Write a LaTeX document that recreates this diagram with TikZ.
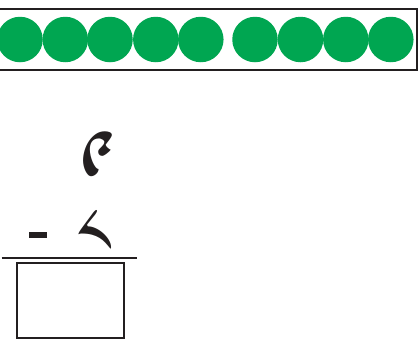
\documentclass[tikz,border=0pt]{standalone}
\usepackage{fontspec}
\newfontfamily\tibfont[Script=Tibetan]{Jomolhari}
\definecolor{dotgreen}{RGB}{0,166,81}
\definecolor{ink}{RGB}{35,31,32}
\tikzset{
  dot/.style={circle,fill=dotgreen,draw=none,minimum size=45.5pt,inner sep=0pt},
  frame/.style={draw=ink,line width=2pt},
  digit/.style={inner sep=0pt,anchor=center,font=\fontsize{78}{78}\selectfont\tibfont,text=ink}
}
\begin{document}
\begin{tikzpicture}[x=1pt,y=1pt]
\useasboundingbox (0,0) rectangle (420,-338);
\draw[frame] (-5,-9) rectangle (416.5,-70);
\foreach \i/\x in {1/20,2/65.3,3/110,4/155.8,5/200.8,6/255,7/300.5,8/345.8,9/390.8}
  \node[dot] (c\i) at (\x,-39.5) {};
\node[digit] (top) at (96.5,-161) {༩};
\node[digit] (bot) at (95.5,-240.5) {༨};
\fill[ink] (29,-232) rectangle (47,-237.5);
\draw[frame] (1.7,-258.3) -- (136.7,-258.3);
\node[draw=ink,line width=2pt,minimum width=107.6pt,minimum height=75.6pt,inner sep=0pt,anchor=north west] (ans) at (15.7,-261.7) {};
\end{tikzpicture}
\end{document}
